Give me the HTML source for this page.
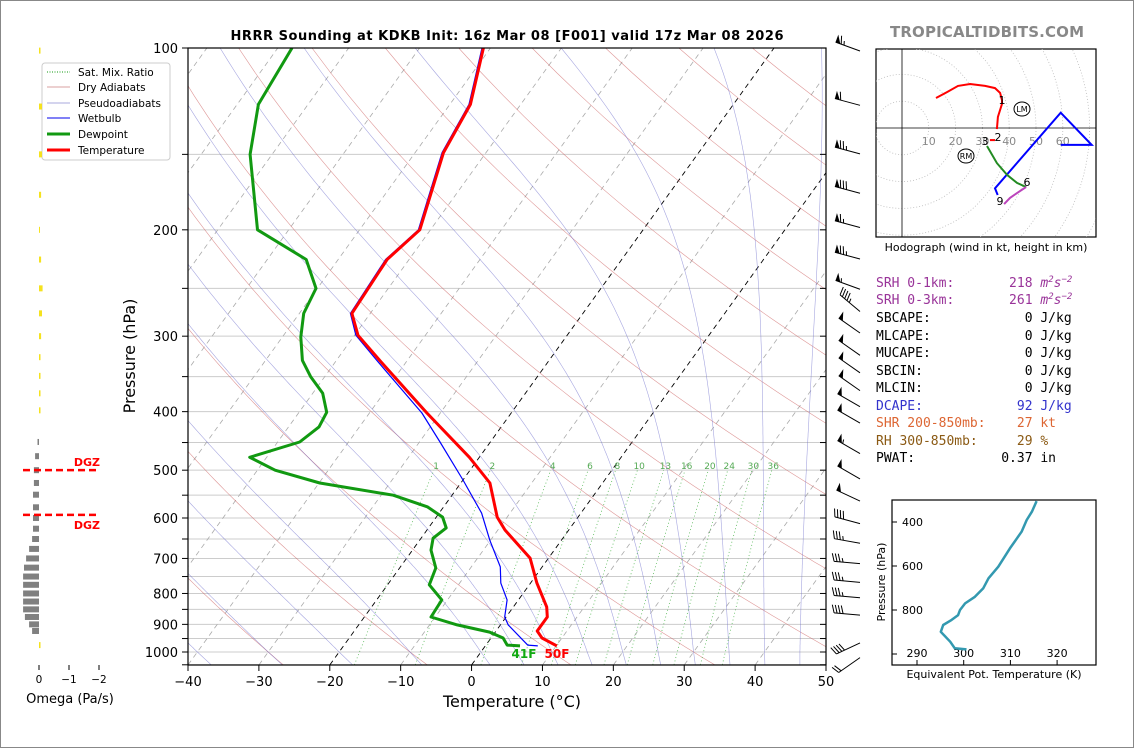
<!DOCTYPE html>
<html><head><meta charset="utf-8">
<style>
html,body{margin:0;padding:0;background:#fff;}
svg{display:block;font-family:"DejaVu Sans","Liberation Sans",sans-serif;}
.mono{font-family:"DejaVu Sans Mono","Liberation Mono",monospace;font-size:13px;}
</style></head>
<body>
<svg id="root" width="1134" height="748" viewBox="0 0 1134 748" xmlns="http://www.w3.org/2000/svg">
<rect x="0.5" y="0.5" width="1133" height="747" fill="#fff" stroke="#888"/>
<defs><clipPath id="plotclip"><rect x="188" y="48" width="638" height="617"/></clipPath>
<clipPath id="hodoclip"><rect x="876" y="49" width="220" height="188"/></clipPath></defs>
<text x="507" y="40" text-anchor="middle" font-size="13" font-weight="bold" textLength="553">HRRR Sounding at KDKB Init: 16z Mar 08 [F001] valid 17z Mar 08 2026</text>
<text x="987" y="37" text-anchor="middle" font-size="15" font-weight="bold" fill="#888" textLength="194">TROPICALTIDBITS.COM</text>
<g id="bg" clip-path="url(#plotclip)"></g>
<g id="profiles" clip-path="url(#plotclip)"></g>
<g id="axes"></g>
<text x="512" y="707" text-anchor="middle" font-size="16">Temperature (°C)</text>
<text transform="translate(135,356) rotate(-90)" text-anchor="middle" font-size="16">Pressure (hPa)</text>
<text x="524" y="658" font-size="12" font-weight="bold" fill="#11aa11" text-anchor="middle">41F</text>
<text x="557" y="658" font-size="12" font-weight="bold" fill="#ff0000" text-anchor="middle">50F</text>
<g id="legend">
<rect x="42" y="63" width="128" height="97" rx="3" fill="#fff" stroke="#ccc"/>
<line x1="47" y1="72" x2="70" y2="72" stroke="#119911" stroke-dasharray="1,1.5"/>
<text x="78" y="76" font-size="10.5">Sat. Mix. Ratio</text>
<line x1="47" y1="87" x2="70" y2="87" stroke="#d9a0a0"/>
<text x="78" y="91" font-size="10.5">Dry Adiabats</text>
<line x1="47" y1="103" x2="70" y2="103" stroke="#a8a8dd"/>
<text x="78" y="107" font-size="10.5">Pseudoadiabats</text>
<line x1="47" y1="118" x2="70" y2="118" stroke="#0000ee"/>
<text x="78" y="122" font-size="10.5">Wetbulb</text>
<line x1="47" y1="134" x2="70" y2="134" stroke="#119911" stroke-width="3"/>
<text x="78" y="138" font-size="10.5">Dewpoint</text>
<line x1="47" y1="150" x2="70" y2="150" stroke="#ff0000" stroke-width="3"/>
<text x="78" y="154" font-size="10.5">Temperature</text>
</g>
<g id="omega"></g>
<text x="70" y="703" text-anchor="middle" font-size="13">Omega (Pa/s)</text>
<g id="barbs"></g>
<g id="hodo"></g>
<text x="986" y="251" text-anchor="middle" font-size="11">Hodograph (wind in kt, height in km)</text>
<g id="params" class="mono">
<text x="876" y="287" fill="#993399" xml:space="preserve">SRH 0-1km:       218 <tspan font-style="italic">m</tspan><tspan font-size="9" dy="-5" font-style="italic">2</tspan><tspan font-style="italic" dy="5">s</tspan><tspan font-size="9" dy="-5" font-style="italic">−2</tspan></text>
<text x="876" y="304" fill="#993399" xml:space="preserve">SRH 0-3km:       261 <tspan font-style="italic">m</tspan><tspan font-size="9" dy="-5" font-style="italic">2</tspan><tspan font-style="italic" dy="5">s</tspan><tspan font-size="9" dy="-5" font-style="italic">−2</tspan></text>
<text x="876" y="322" fill="#000" xml:space="preserve">SBCAPE:            0 J/kg</text>
<text x="876" y="340" fill="#000" xml:space="preserve">MLCAPE:            0 J/kg</text>
<text x="876" y="357" fill="#000" xml:space="preserve">MUCAPE:            0 J/kg</text>
<text x="876" y="375" fill="#000" xml:space="preserve">SBCIN:             0 J/kg</text>
<text x="876" y="392" fill="#000" xml:space="preserve">MLCIN:             0 J/kg</text>
<text x="876" y="410" fill="#3333cc" xml:space="preserve">DCAPE:            92 J/kg</text>
<text x="876" y="427" fill="#dd6633" xml:space="preserve">SHR 200-850mb:    27 kt</text>
<text x="876" y="445" fill="#8b5a14" xml:space="preserve">RH 300-850mb:     29 %</text>
<text x="876" y="462" fill="#000" xml:space="preserve">PWAT:           0.37 in</text>
</g>
<g id="thetae"></g>
<text x="994" y="678" text-anchor="middle" font-size="11">Equivalent Pot. Temperature (K)</text>
<text transform="translate(885,582) rotate(-90)" text-anchor="middle" font-size="11">Pressure (hPa)</text>

<script>
// ---- data ----
const tempP=[100,124,149,200,224,275,299,329,402,476,525,598,628,699,769,842,875,923,948,977];
const tempC=[-61.0,-57.1,-56.0,-51.5,-53.1,-52.6,-49.5,-43.9,-31.9,-21.4,-15.9,-11.4,-9.0,-2.6,0.9,4.7,5.8,5.8,7.2,10.1];
const dewP=[100,124,150,200,224,250,275,301,329,350,373,401,424,449,476,500,525,550,575,598,623,648,678,726,774,820,875,902,927,948,974,977];
const dewC=[-88.0,-87.0,-83.1,-74.4,-64.5,-60.2,-59.4,-57.4,-54.8,-52.0,-48.6,-46.1,-45.7,-46.9,-52.4,-47.5,-39.9,-28.3,-22.3,-19.1,-17.5,-18.3,-17.4,-14.9,-14.1,-10.8,-10.6,-6.1,-0.8,1.7,3.0,4.9];
const wbP=[100,124,149,200,224,275,299,329,402,449,519,589,653,723,769,820,875,902,974,977];
const wbC=[-61.2,-57.3,-56.2,-51.7,-53.3,-52.8,-49.8,-44.3,-32.6,-27.1,-20.0,-14.0,-10.1,-5.9,-4.2,-1.6,-0.2,1.1,5.9,7.4];
const omegaP=[101,125,150,175,200,224,250,275,300,325,349,373,398,449,474,500,525,549,576,600,625,650,675,700,725,750,774,800,825,850,875,900,923,974];
const omegaV=[-0.05,-0.1,-0.1,-0.07,-0.03,-0.07,-0.12,-0.1,-0.07,-0.05,-0.05,-0.05,-0.05,0.05,0.13,0.17,0.17,0.2,0.2,0.2,0.2,0.23,0.33,0.43,0.5,0.53,0.53,0.53,0.53,0.53,0.47,0.33,0.23,-0.05];
const barbP=[100,123,148,172,196,221,248,270,293,319,341,365,388,413,464,511,556,606,653,706,758,804,859,955,1010];
const barbDir=[290,285,285,285,285,285,290,310,305,305,305,305,300,300,300,300,295,285,280,275,275,275,275,245,235];
const barbSpd=[65,60,75,80,65,75,55,45,50,50,50,50,50,50,55,50,50,40,35,35,35,35,40,40,20];
const mixRatios=[1,2,4,6,8,10,13,16,20,24,30,36];
const xTicks=[-40,-30,-20,-10,0,10,20,30,40,50];
const yTicks=[100,200,300,400,500,600,700,800,900,1000];
const hodoRedU=[12.7,16.8,20.9,25.4,31.0,34.7,36.6,37.3,37.3,35.8,35.4];
const hodoRedV=[11.2,13.4,15.7,16.4,15.7,14.9,13.1,10.4,9.0,4.1,-0.4];
const hodoRed2U=[34.7,32.8];
const hodoRed2V=[-4.5,-4.5];
const hodoGreenU=[31.7,35.4,39.2,42.9,46.3];
const hodoGreenV=[-6.7,-13.1,-17.5,-20.5,-22.0];
const hodoMagU=[46.3,42.9,40.3,38.1];
const hodoMagV=[-22.0,-24.3,-26.1,-28.4];
const hodoBlueU=[35.7,34.7,59.2,70.8,59.2];
const hodoBlueV=[-25.0,-22.5,5.7,-6.3,-6.3];
const thetaEP=[305,353,391,444,520,603,656,701,740,770,800,823,845,868,899,944,974,979];
const thetaEK=[315.6,314.6,313.5,312.4,309.9,307.4,305.3,304.2,302.4,300.3,299.2,298.8,297.4,295.6,295.1,297.1,298.1,300.6];

const NS="http://www.w3.org/2000/svg";
function mk(parent,tag,attrs,text){const e=document.createElementNS(NS,tag);for(const k in attrs)e.setAttribute(k,attrs[k]);if(text!==undefined)e.textContent=text;parent.appendChild(e);return e;}
const X0=188,YB=665,PXC=638/90,SKEW=0.72;
function yP(p){return 48+604*Math.log10(p/100);}
function xT(T,p){return X0+(T+40)*PXC+SKEW*(YB-yP(p));}
function pathOf(pts){return pts.map((q,i)=>(i?'L':'M')+q[0].toFixed(1)+' '+q[1].toFixed(1)).join(' ');}

// ---- background ----
const bg=document.getElementById('bg');
for(let p=100;p<=1050;p+=50){const l=mk(bg,'line',{x1:188,x2:826,y1:yP(p),y2:yP(p),stroke:'#cccccc','stroke-width':1});

}
for(let T=-150;T<=50;T+=10){const blk=(T===0||T===-20);
const l=mk(bg,'line',{x1:xT(T,1050),y1:yP(1050),x2:xT(T,100),y2:yP(100),stroke:blk?'#000':'#aaaaaa','stroke-width':blk?0.9:0.8,'stroke-dasharray':'5,4'});

}
for(let th=-50;th<=250;th+=20){const pts=[];for(let p=1050;p>=100;p-=10){const Tk=(th+273.15)*Math.pow(p/1000,0.286);pts.push([xT(Tk-273.15,p),yP(p)]);}
const e=mk(bg,'path',{d:pathOf(pts),fill:'none',stroke:'#cc6060','stroke-width':0.6,opacity:0.65});

}
function satMR(T,p){const es=6.112*Math.exp(17.67*T/(T+243.5));return 0.622*es/(p-es);}
function lapse(T,p){const Tk=T+273.15,rs=satMR(T,p),Rd=287.04,Lv=2.501e6,Cp=1005.7;return (1/p)*(Rd*Tk+Lv*rs)/(Cp+(Lv*Lv*rs*0.622)/(Rd*Tk*Tk));}
const moistT0=[-50,-40,-30,-20,-10,0,5,10,15,20,25,30,35,40,45];
moistT0.forEach(t0=>{let T=t0,pts=[];let Td=t0+lapse(t0,1000)*50;pts.push([xT(Td,1050),yP(1050)]);
for(let p=1000;p>=100;p-=5){pts.push([xT(T,p),yP(p)]);T-=lapse(T,p)*5;}
const e=mk(bg,'path',{d:pathOf(pts),fill:'none',stroke:'#6a6acc','stroke-width':0.6,opacity:0.6});

});
function tdW(w,p){const e=w*p/(622+w);const l=Math.log(e/6.112);return 243.5*l/(17.67-l);}
mixRatios.forEach(w=>{const pts=[];for(let p=1050;p>=500;p-=10)pts.push([xT(tdW(w,p),p),yP(p)]);
const e=mk(bg,'path',{d:pathOf(pts),fill:'none',stroke:'#33aa33','stroke-width':0.8,'stroke-dasharray':'1,2.5',opacity:0.8});


const t=mk(bg,'text',{x:xT(tdW(w,490),490),y:yP(490)+4,'text-anchor':'middle','font-size':9,fill:'#55aa55'},String(w));

});

// ---- profiles ----
const pr=document.getElementById('profiles');
function prof(P,T,col,w,name){const e=mk(pr,'path',{d:pathOf(P.map((p,i)=>[xT(T[i],p),yP(p)])),fill:'none',stroke:col,'stroke-width':w,'stroke-linejoin':'round'});

}
prof(wbP,wbC,'#0000ff',1.2,'wetbulb-line');
prof(dewP,dewC,'#119911',3,'dewpoint-line');
prof(tempP,tempC,'#ff0000',3,'temperature-line');

// ---- axes ----
const ax=document.getElementById('axes');
const fr=mk(ax,'rect',{x:188,y:48,width:638,height:617,fill:'none',stroke:'#000','stroke-width':1.2});


xTicks.forEach(T=>{const x=X0+(T+40)*PXC;mk(ax,'line',{x1:x,x2:x,y1:665,y2:671,stroke:'#000'});
const t=mk(ax,'text',{x:x,y:686,'text-anchor':'middle','font-size':13},(T<0?'−':'')+Math.abs(T));

});
for(let p=100;p<=1050;p+=50){const y=yP(p);mk(ax,'line',{x1:182,x2:188,y1:y,y2:y,stroke:'#000'});mk(ax,'line',{x1:820,x2:826,y1:y,y2:y,stroke:'#000'});}
yTicks.forEach(p=>{const t=mk(ax,'text',{x:178,y:yP(p)+5,'text-anchor':'end','font-size':13},String(p));

});

// ---- omega ----
const om=document.getElementById('omega');
const OX=39,OS=30;
omegaP.forEach((p,i)=>{const v=omegaV[i],y=yP(p);const pos=v>0;
const r=mk(om,'rect',{x:pos?OX-OS*v:OX,y:y-3,width:Math.max(1,OS*Math.abs(v)),height:6,fill:pos?'#808080':'#f5e21e'});

});
[0,-1,-2].forEach(v=>{const x=OX-OS*v;mk(om,'line',{x1:x,x2:x,y1:665,y2:670,stroke:'#000'});
const t=mk(om,'text',{x:x,y:683,'text-anchor':'middle','font-size':10.5},v===0?'0':'−'+Math.abs(v));

});
const dgzP=[500,593];
dgzP.forEach((p,i)=>{const y=yP(p);const l=mk(om,'line',{x1:23,x2:99,y1:y,y2:y,stroke:'#ff0000','stroke-width':2.5,'stroke-dasharray':'7,4'});


const t=mk(om,'text',{x:100,y:i===0?y-4:y+14,'text-anchor':'end','font-size':11,'font-weight':'bold',fill:'#ff0000'},'DGZ');

});

// ---- barbs ----
const bb=document.getElementById('barbs');
barbP.forEach((p,i)=>{const g=mk(bb,'g',{});


const bx=860,by=yP(p)+3,L=26,r=barbDir[i]*Math.PI/180;const ux=Math.sin(r),uy=-Math.cos(r);const px=-uy,py=ux;
const ex=bx+ux*L,ey=by+uy*L;mk(g,'line',{x1:bx,y1:by,x2:ex,y2:ey,stroke:'#000','stroke-width':1});
let s=Math.round(barbSpd[i]/5)*5,d=0;
while(s>=50){const ax0=ex-ux*d,ay0=ey-uy*d;mk(g,'polygon',{points:`${ax0},${ay0} ${ax0-ux*5},${ay0-uy*5} ${ax0+px*8},${ay0+py*8}`,fill:'#000'});d+=6;s-=50;}
while(s>=10){const ax0=ex-ux*d,ay0=ey-uy*d;mk(g,'line',{x1:ax0,y1:ay0,x2:ax0+px*8+ux*2.5,y2:ay0+py*8+uy*2.5,stroke:'#000'});d+=3;s-=10;}
if(s>=5){if(d===0)d=3;const ax0=ex-ux*d,ay0=ey-uy*d;mk(g,'line',{x1:ax0,y1:ay0,x2:ax0+px*4+ux*1.2,y2:ay0+py*4+uy*1.2,stroke:'#000'});}
});

// ---- hodograph ----
const hd=document.getElementById('hodo');
const HX=902,HY=128,HS=2.68;
const hb=mk(hd,'rect',{x:876,y:49,width:220,height:188,fill:'#fff',stroke:'#000','stroke-width':1.2});


const hg=mk(hd,'g',{'clip-path':'url(#hodoclip)'});
for(let r=10;r<=80;r+=10)mk(hg,'circle',{cx:HX,cy:HY,r:r*HS,fill:'none',stroke:'#bbb','stroke-width':0.8,'stroke-dasharray':'1,2'});
mk(hg,'line',{x1:HX,x2:HX,y1:49,y2:237,stroke:'#000','stroke-width':0.8});
mk(hg,'line',{x1:876,x2:1096,y1:HY,y2:HY,stroke:'#000','stroke-width':0.8});
[10,20,30,40,50,60].forEach(k=>{mk(hg,'text',{x:HX+k*HS,y:HY+17,'text-anchor':'middle','font-size':11,fill:'#888'},String(k));});
function hline(U,V,col,name){const e=mk(hg,'path',{d:pathOf(U.map((u,i)=>[HX+u*HS,HY-V[i]*HS])),fill:'none',stroke:col,'stroke-width':2});

}
hline(hodoBlueU,hodoBlueV,'#0000ff','hodo-trace-blue');
hline(hodoRedU,hodoRedV,'#ff0000','hodo-trace-0-1km');
hline(hodoRed2U,hodoRed2V,'#ff0000','hodo-trace-2-3km');
hline(hodoGreenU,hodoGreenV,'#228b22','hodo-trace-3-6km');
hline(hodoMagU,hodoMagV,'#bb44bb','hodo-trace-6-9km');
[['1',1002,104],['2',998,141],['3',985,145],['6',1027,186],['9',1000,205]].forEach(a=>{mk(hg,'text',{x:a[1],y:a[2],'text-anchor':'middle','font-size':11},a[0]);});
[['LM',1022,109],['RM',966,156]].forEach(a=>{mk(hg,'ellipse',{cx:a[1],cy:a[2],rx:8,ry:7,fill:'#fff',stroke:'#000'});mk(hg,'text',{x:a[1],y:a[2]+3,'text-anchor':'middle','font-size':8},a[0]);});

// ---- theta-e ----
const te=document.getElementById('thetae');
function tx(k){return 917+(k-290)*4.67;} function ty(p){return 522+(p-400)*0.22;}
const tb=mk(te,'rect',{x:892,y:500,width:204,height:165,fill:'#fff',stroke:'#000','stroke-width':1.2});


[400,600,800,1000].forEach(p=>{mk(te,'line',{x1:892,x2:897,y1:ty(p),y2:ty(p),stroke:'#000'});if(p<1000)mk(te,'text',{x:902,y:ty(p)+4,'font-size':11},String(p));});
[290,300,310,320].forEach(k=>{mk(te,'line',{x1:tx(k),x2:tx(k),y1:665,y2:660,stroke:'#000'});mk(te,'text',{x:tx(k),y:657,'text-anchor':'middle','font-size':11},String(k));});
const tl=mk(te,'path',{d:pathOf(thetaEP.map((p,i)=>[tx(thetaEK[i]),ty(p)])),fill:'none',stroke:'#3399b0','stroke-width':2.5,'stroke-linejoin':'round'});


</script>
</svg>
</body></html>
